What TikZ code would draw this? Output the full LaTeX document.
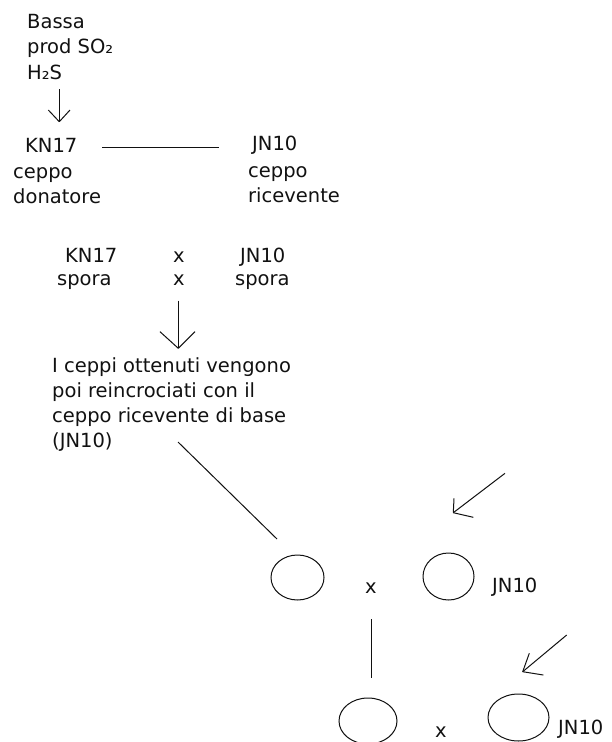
\documentclass[tikz,border=0pt]{standalone}
\usepackage{fontspec}
\setmainfont{DejaVu Sans}
\usetikzlibrary{shapes.geometric}
\definecolor{ink}{HTML}{111111}
\tikzset{
  txt/.style={anchor=base west, inner sep=0, text=ink, font=\fontsize{19.5}{24}\selectfont},
  ln/.style={draw=ink, line width=1pt},
  blob/.style={draw=ink, ellipse, inner sep=0, line width=1pt},
}
\begin{document}
\begin{tikzpicture}[x=1pt,y=-1pt]
\useasboundingbox (0,0) rectangle (611,742);

% starting strain
\node[txt] (bassa) at (27,28) {Bassa};
\node[txt] (prod)  at (27,53) {prod SO₂};
\node[txt] (hs)    at (27,79) {H₂S};

% donor and recipient strains
\node[txt] (kn)    at (25,152) {KN17};
\node[txt] (kncep) at (13,178) {ceppo};
\node[txt] (kndon) at (13,203) {donatore};
\node[txt] (jn)    at (252,150) {JN10};
\node[txt] (jncep) at (248,177) {ceppo};
\node[txt] (jnric) at (248,202) {ricevente};

% spore cross
\node[txt] (knsp)  at (65,262) {KN17};
\node[txt] (knsp2) at (57,285) {spora};
\node[txt] (xa)    at (173,262) {x};
\node[txt] (xb)    at (173,285) {x};
\node[txt] (jnsp)  at (240,262) {JN10};
\node[txt] (jnsp2) at (235,285) {spora};

% backcross note
\node[txt] (par1) at (52,372) {I ceppi ottenuti vengono};
\node[txt] (par2) at (52,397) {poi reincrociati con il};
\node[txt] (par3) at (52,422) {ceppo ricevente di base};
\node[txt] (par4) at (52,447) {(JN10)};

% first backcross
\node[blob, minimum width=53pt, minimum height=45pt] (e1) at (297.5,577.5) {};
\node[txt] (x1) at (365,593) {x};
\node[blob, minimum width=51pt, minimum height=47pt] (e2) at (448.5,576.5) {};
\node[txt] (jnA) at (492,592) {JN10};

% second backcross
\node[blob, minimum width=58pt, minimum height=46pt] (e3) at (368,721) {};
\node[txt] (x2) at (435,737.5) {x};
\node[blob, minimum width=61pt, minimum height=47pt] (e4) at (518.5,717.5) {};
\node[txt] (jnB) at (558,734) {JN10};

% connector end points
\coordinate (a1s) at (59.3,89.3);
\coordinate (a1t) at (59.3,121.7);
\coordinate (hl1) at (102,147);
\coordinate (hl2) at (219,147);
\coordinate (a2s) at (178.3,300.7);
\coordinate (a2t) at (178.3,348.3);
\coordinate (dg1) at (178,442);
\coordinate (dg2) at (277,539);
\coordinate (a3s) at (505,473.3);
\coordinate (a3t) at (453.3,512.7);
\coordinate (vl1) at (371,619);
\coordinate (vl2) at (371,678);
\coordinate (a4s) at (566.7,635);
\coordinate (a4t) at (522.7,671.7);

% arrow below the starting strain
\draw[ln] (a1s) -- (a1t);
\draw[ln] (a1t) -- ++(-11,-11.7);
\draw[ln] (a1t) -- ++(10.7,-11.7);

% link between the two strains
\draw[ln] (hl1) -- (hl2);

% arrow below the spore cross
\draw[ln] (a2s) -- (a2t);
\draw[ln] (a2t) -- ++(-18.3,-16.6);
\draw[ln] (a2t) -- ++(16.7,-16.6);

% line from the note down to the first backcross
\draw[ln] (dg1) -- (dg2);

% arrow pointing at the recipient strain
\draw[ln] (a3s) -- (a3t);
\draw[ln] (a3t) -- ++(0.7,-14.4);
\draw[ln] (a3t) -- ++(20,4.6);

% line from the first to the second backcross
\draw[ln] (vl1) -- (vl2);

% second arrow pointing at the recipient strain
\draw[ln] (a4s) -- (a4t);
\draw[ln] (a4t) -- ++(6.6,-18.4);
\draw[ln] (a4t) -- ++(20.6,3.3);
\end{tikzpicture}
\end{document}
